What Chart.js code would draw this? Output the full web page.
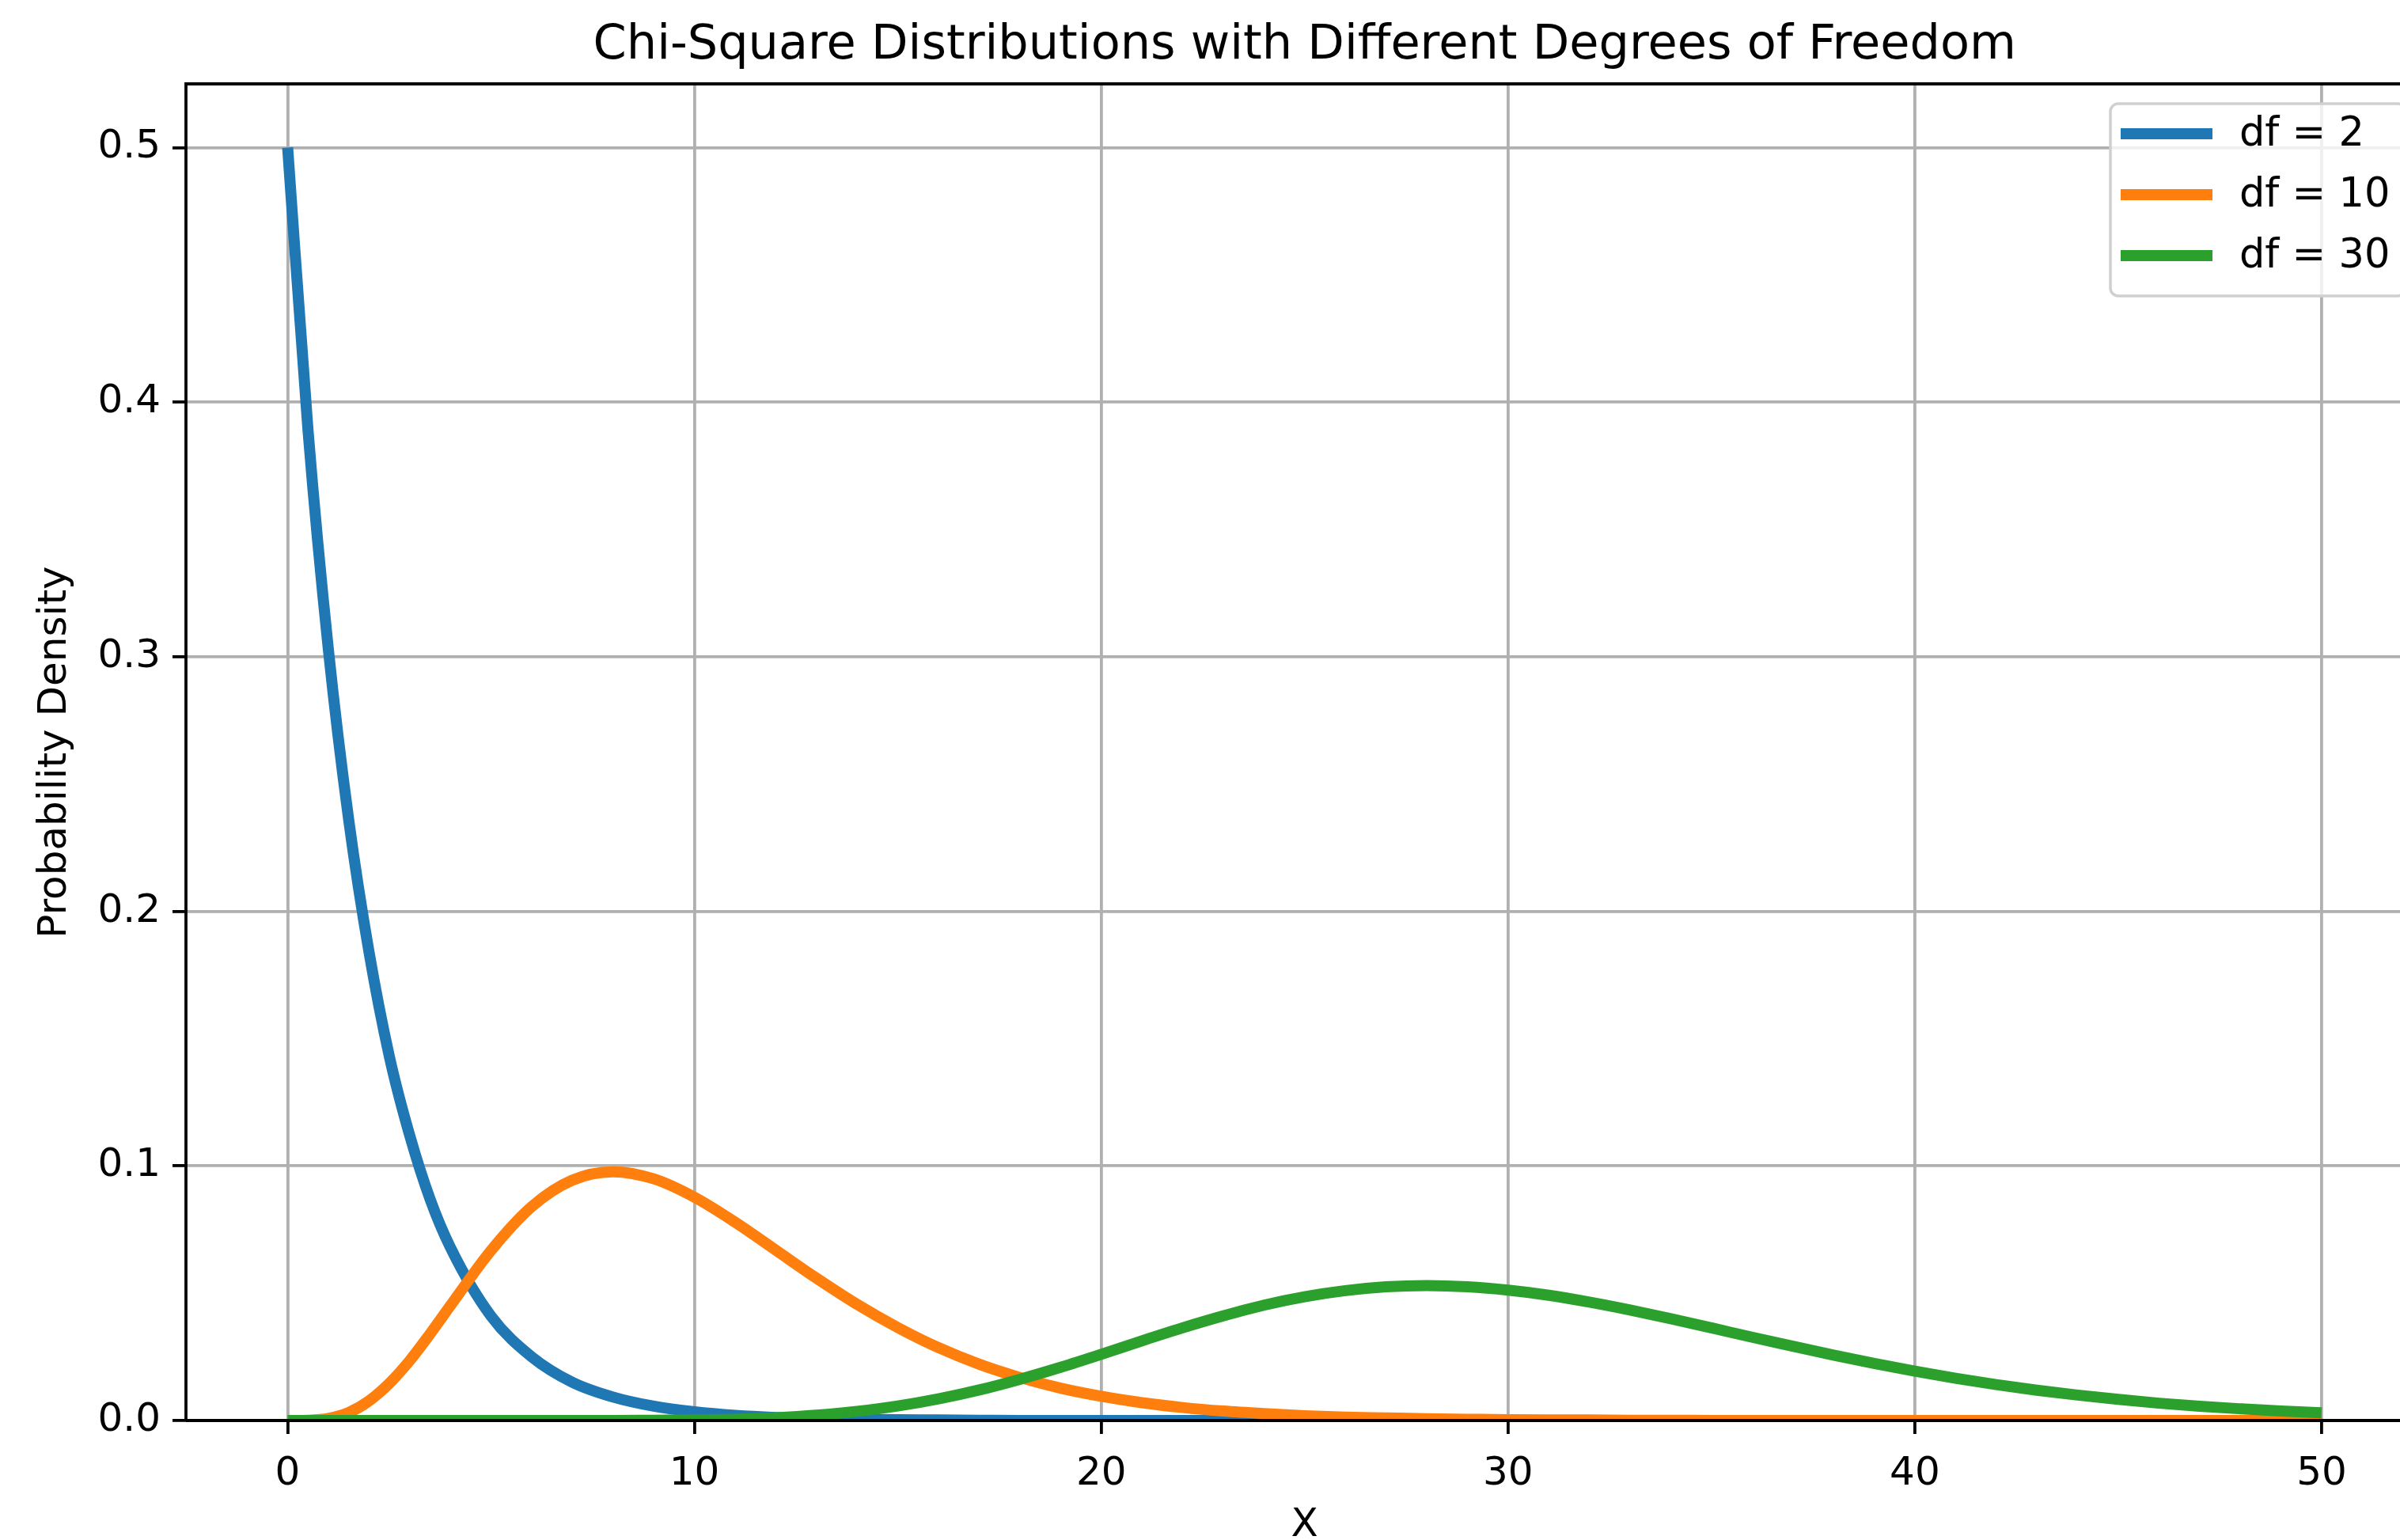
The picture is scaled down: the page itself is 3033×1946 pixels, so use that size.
<!DOCTYPE html>
<html lang="en">
<head>
  <meta charset="UTF-8">
  <title>Chi-Square Distributions</title>
  <script src="https://cdn.jsdelivr.net/npm/chart.js"></script>
  <style>
    html, body { margin: 0; padding: 0; background: #fff; overflow: hidden; }
    #chart { display: block; }
  </style>
</head>
<body>
  <canvas id="chart" width="3100" height="1960"></canvas>
  <script>
    // x positions of the sampled points
    const xValues = [0, 0.5, 1, 1.5, 2, 2.5, 3, 3.5, 4,
      5, 6, 7, 8, 9, 10, 11, 12, 13, 14, 15, 16, 17, 18, 19, 20,
      21, 22, 23, 24, 25, 26, 27, 28, 29, 30, 31, 32, 33, 34, 35,
      36, 37, 38, 39, 40, 41, 42, 43, 44, 45, 46, 47, 48, 49, 50];

    // densities
    const df2Values = [0.5, 0.389, 0.303, 0.236, 0.184, 0.143, 0.112, 0.087, 0.068,
      0.041, 0.025, 0.015, 0.0092, 0.0056, 0.0034, 0.0020, 0.0012, 0.0008, 0.0005, 0.0003,
      0.0002, 0.0001, 0, 0, 0, 0, 0, 0, 0, 0, 0, 0, 0, 0, 0, 0, 0, 0, 0, 0,
      0, 0, 0, 0, 0, 0, 0, 0, 0, 0, 0, 0, 0, 0, 0];
    const df10Values = [0, 0.0001, 0.0008, 0.0031, 0.0077, 0.0146, 0.0235, 0.034, 0.0451,
      0.0668, 0.084, 0.0944, 0.0977, 0.0949, 0.0877, 0.0779, 0.0669, 0.0559, 0.0456, 0.0365,
      0.0286, 0.0221, 0.0169, 0.0127, 0.0095, 0.0070, 0.0051, 0.0037, 0.0027, 0.0019,
      0.0013, 0.0010, 0.0007, 0.0005, 0.0003, 0.0002, 0.0002, 0.0001, 0.0001,
      0, 0, 0, 0, 0, 0, 0, 0, 0, 0, 0, 0, 0, 0, 0, 0];
    const df30Values = [0, 0, 0, 0, 0, 0, 0, 0, 0,
      0, 0, 0, 0, 0.0001, 0.0002, 0.0005, 0.0011, 0.0021, 0.0036, 0.0057,
      0.0085, 0.0120, 0.0162, 0.0209, 0.0260, 0.0313, 0.0364, 0.0411, 0.0453, 0.0486,
      0.0510, 0.0525, 0.0530, 0.0525, 0.0512, 0.0492, 0.0465, 0.0434, 0.0400, 0.0364,
      0.0327, 0.0292, 0.0257, 0.0224, 0.0194, 0.0166, 0.0141, 0.0119, 0.0100, 0.0083,
      0.0068, 0.0056, 0.0046, 0.0037, 0.0030];

    const seriesLabels = ['df = 2', 'df = 10', 'df = 30'];
    const seriesColors = ['#1f77b4', '#ff7f0e', '#2ca02c'];
    const seriesValues = [df2Values, df10Values, df30Values];

    const xTicks = [0, 10, 20, 30, 40, 50];
    const yTicks = [0, 0.1, 0.2, 0.3, 0.4, 0.5];

    const FONT = 'DejaVu Sans';

    function toPoints(values) {
      return xValues.map((x, i) => ({ x: x, y: values[i] }));
    }

    // spines on top/right + matplotlib style legend
    const framePlugin = {
      id: 'frame',
      afterDatasetsDraw(chart) {
        const { ctx, chartArea: a } = chart;
        ctx.save();
        ctx.strokeStyle = '#000';
        ctx.lineWidth = 3.8;
        ctx.beginPath();
        ctx.moveTo(a.left, a.bottom);
        ctx.lineTo(a.left, a.top);
        ctx.lineTo(a.right, a.top);
        ctx.lineTo(a.right, a.bottom);
        ctx.lineTo(a.left, a.bottom);
        ctx.stroke();
        ctx.restore();
      },
      afterDraw(chart) {
        const ctx = chart.ctx;
        const left = 2667, top = 131, right = 3040, bottom = 374, r = 10;
        ctx.save();
        ctx.beginPath();
        ctx.moveTo(left + r, top);
        ctx.lineTo(right - r, top);
        ctx.arcTo(right, top, right, top + r, r);
        ctx.lineTo(right, bottom - r);
        ctx.arcTo(right, bottom, right - r, bottom, r);
        ctx.lineTo(left + r, bottom);
        ctx.arcTo(left, bottom, left, bottom - r, r);
        ctx.lineTo(left, top + r);
        ctx.arcTo(left, top, left + r, top, r);
        ctx.closePath();
        ctx.fillStyle = 'rgba(255,255,255,0.8)';
        ctx.fill();
        ctx.strokeStyle = '#d0d0d0';
        ctx.lineWidth = 3.5;
        ctx.stroke();
        ctx.font = '51px "' + FONT + '"';
        ctx.textBaseline = 'middle';
        ctx.fillStyle = '#000';
        seriesLabels.forEach((label, i) => {
          const y = 169 + i * 77;
          ctx.strokeStyle = seriesColors[i];
          ctx.lineWidth = 14;
          ctx.beginPath();
          ctx.moveTo(2680, y);
          ctx.lineTo(2796, y);
          ctx.stroke();
          ctx.fillText(label, 2830, y + 2);
        });
        ctx.restore();
      }
    };

    new Chart(document.getElementById('chart'), {
      type: 'line',
      data: {
        datasets: seriesValues.map((vals, i) => ({
          label: seriesLabels[i],
          data: toPoints(vals),
          borderColor: seriesColors[i],
          backgroundColor: seriesColors[i],
          borderWidth: 14,
          pointRadius: 0,
          cubicInterpolationMode: 'monotone',
          borderCapStyle: 'butt',
          clip: 0,
          order: 3 - i
        }))
      },
      options: {
        responsive: false,
        animation: false,
        devicePixelRatio: 1,
        layout: { padding: { left: 0, top: 0, right: 37.5, bottom: 0 } },
        plugins: {
          legend: { display: false },
          tooltip: { enabled: false },
          title: {
            display: true,
            fullSize: false,
            text: 'Chi-Square Distributions with Different Degrees of Freedom',
            color: '#000',
            font: { family: FONT, size: 60.5, weight: 'normal', lineHeight: 1 },
            padding: { top: 28, bottom: 17.5 }
          }
        },
        scales: {
          x: {
            type: 'linear',
            min: -2.5,
            max: 52.5,
            afterFit(scale) { scale.height = 165; },
            afterBuildTicks(scale) { scale.ticks = xTicks.map(v => ({ value: v })); },
            border: { display: false },
            grid: {
              color: '#b0b0b0',
              lineWidth: 3.8,
              drawTicks: true,
              tickLength: 17,
              tickColor: '#000',
              tickWidth: 3.8
            },
            ticks: {
              color: '#000',
              padding: 21,
              maxRotation: 0,
              font: { family: FONT, size: 50 },
              callback: v => String(v)
            },
            title: {
              display: true,
              text: 'X',
              color: '#000',
              font: { family: FONT, size: 50, lineHeight: 1 },
              padding: { top: 0, bottom: 7 }
            }
          },
          y: {
            type: 'linear',
            min: 0,
            max: 0.525,
            afterFit(scale) { scale.width = 235; },
            afterBuildTicks(scale) { scale.ticks = yTicks.map(v => ({ value: v })); },
            border: { display: false },
            grid: {
              color: '#b0b0b0',
              lineWidth: 3.8,
              drawTicks: true,
              tickLength: 17,
              tickColor: '#000',
              tickWidth: 3.8
            },
            ticks: {
              color: '#000',
              padding: 15,
              font: { family: FONT, size: 50 },
              callback: v => v.toFixed(1)
            },
            title: {
              display: true,
              text: 'Probability Density',
              color: '#000',
              font: { family: FONT, size: 50, lineHeight: 1 },
              padding: { top: 45, bottom: 0 }
            }
          }
        }
      },
      plugins: [framePlugin]
    });
  </script>
</body>
</html>
